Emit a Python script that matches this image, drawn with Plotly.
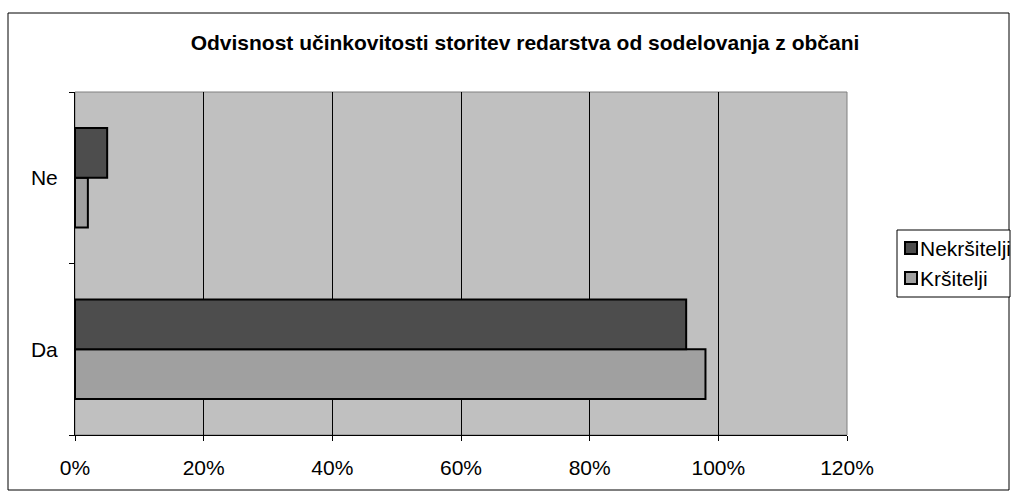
import plotly.graph_objects as go

categories = ["Da", "Ne"]
nekrsitelji = [95, 5]
krsitelji = [98, 2]
x_ticks = [0, 20, 40, 60, 80, 100, 120]
x_tick_labels = ["0%", "20%", "40%", "60%", "80%", "100%", "120%"]
series_names = ["Nekršitelji", "Kršitelji"]
series_colors = ["#4D4D4D", "#A0A0A0"]

FONT = "Arial, Liberation Sans, sans-serif"

fig = go.Figure()
fig.add_trace(go.Bar(
    y=categories, x=krsitelji, name=series_names[1], orientation="h",
    marker=dict(color=series_colors[1], line=dict(color="black", width=2)),
    showlegend=False,
))
fig.add_trace(go.Bar(
    y=categories, x=nekrsitelji, name=series_names[0], orientation="h",
    marker=dict(color=series_colors[0], line=dict(color="black", width=2)),
    showlegend=False,
))

L, R, T, B = 75, 170, 92, 63
W, H = 1017, 498
pw, ph = W - L - R, H - T - B

def px_x(p):
    return (p - L) / pw

def px_y(p):
    return (H - B - p) / ph

shapes = [
    dict(type="rect", xref="paper", yref="paper",
         x0=0, x1=1, y0=0, y1=1,
         line=dict(color="#808080", width=1), layer="below"),
    dict(type="rect", xref="paper", yref="paper",
         x0=px_x(8), x1=px_x(1009), y0=px_y(490), y1=px_y(13),
         line=dict(color="black", width=1)),
    # legend box
    dict(type="rect", xref="paper", yref="paper",
         x0=px_x(897), x1=px_x(1010), y0=px_y(297), y1=px_y(230),
         line=dict(color="black", width=1), fillcolor="white"),
]
annotations = []
for i, (nm, col) in enumerate(zip(series_names, series_colors)):
    cy = 248 + 30 * i
    shapes.append(dict(type="rect", xref="paper", yref="paper",
                       x0=px_x(905), x1=px_x(917), y0=px_y(cy + 6), y1=px_y(cy - 6),
                       line=dict(color="black", width=2), fillcolor=col))
    annotations.append(dict(xref="paper", yref="paper", x=px_x(918), y=px_y(cy),
                            xanchor="left", yanchor="middle", text=nm, showarrow=False,
                            font=dict(family=FONT, size=21, color="black")))

fig.update_layout(
    width=W, height=H,
    margin=dict(l=L, r=R, t=T, b=B),
    paper_bgcolor="white",
    plot_bgcolor="#C0C0C0",
    barmode="group",
    bargap=0.42,
    bargroupgap=0,
    showlegend=False,
    font=dict(family=FONT, size=21, color="black"),
    title=dict(
        text="<b>Odvisnost učinkovitosti storitev redarstva od sodelovanja z občani</b>",
        x=525 / W, xanchor="center", xref="container",
        y=1 - 43 / H, yanchor="middle", yref="container",
        font=dict(family=FONT, size=21, color="black"),
    ),
    xaxis=dict(
        range=[0, 120], tickvals=x_ticks, ticktext=x_tick_labels,
        tickfont=dict(family=FONT, size=21, color="black"),
        showgrid=True, gridcolor="black", gridwidth=1,
        zeroline=False,
        showline=True, linecolor="black", linewidth=1,
        ticks="outside", ticklen=5, tickcolor="black",
        ticklabelstandoff=9,
    ),
    yaxis=dict(
        showline=True, linecolor="black", linewidth=1,
        tickfont=dict(family=FONT, size=21, color="black"),
        ticks="outside", ticklen=5, tickcolor="black",
        tickson="boundaries", showgrid=False,
        ticklabelstandoff=12,
    ),
    shapes=shapes,
    annotations=annotations,
)

fig.write_html("out.html")
